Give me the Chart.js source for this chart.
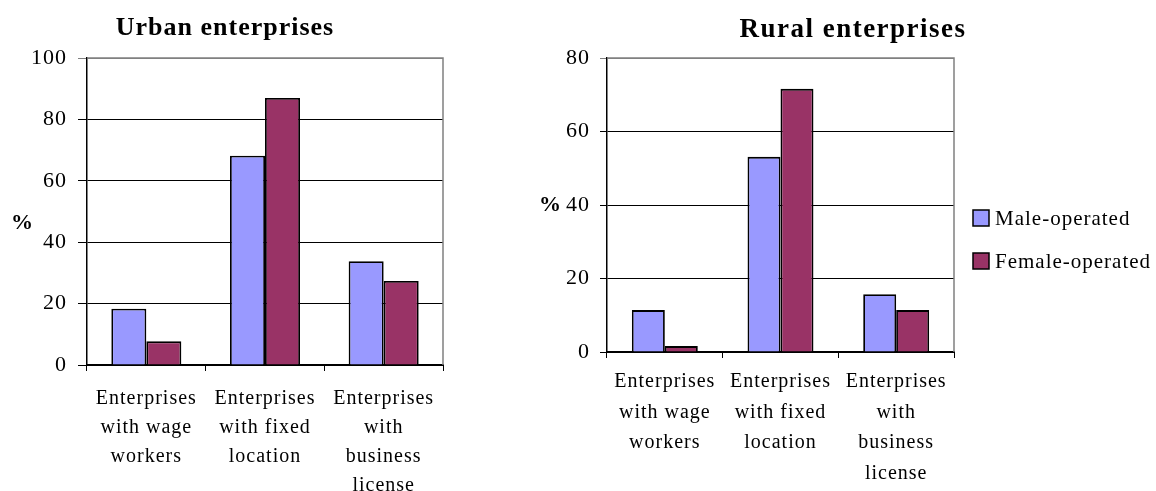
<!DOCTYPE html>
<html>
<head>
<meta charset="utf-8">
<script src="https://cdn.jsdelivr.net/npm/chart.js@4.4.1/dist/chart.umd.min.js"></script>
<style>
  html, body { margin: 0; padding: 0; background: #fff; overflow: hidden; }
  body { width: 1156px; height: 491px; position: relative; }
  .box { position: absolute; top: 0; height: 491px; }
  #urbanBox { left: 0; width: 450px; }
  #ruralBox { left: 520px; width: 636px; }
</style>
</head>
<body>
<div class="box" id="urbanBox"><canvas id="urbanChart"></canvas></div>
<div class="box" id="ruralBox"><canvas id="ruralChart"></canvas></div>
<script>
// categories shared by both panels
const categories = [
    ['Enterprises', 'with wage', 'workers'],
    ['Enterprises', 'with fixed', 'location'],
    ['Enterprises', 'with', 'business', 'license']
];
const seriesNames = ['Male-operated', 'Female-operated'];

// percent of enterprises
const urbanMale = [18.3, 68.2, 33.8];
const urbanFemale = [7.7, 87.0, 27.4];
const ruralMale = [11.4, 53.1, 15.7];
const ruralFemale = [1.6, 71.6, 11.4];

// y axis ranges
const urbanMax = 100;
const ruralMax = 80;
const tickStep = 20;

const serif = "'Liberation Serif', 'Times New Roman', serif";
const maleColor = '#9999ff';
const femaleColor = '#993366';

// spaced-out text, grey plot frame, panel title, "%" label and legend
const excelLook = {
    id: 'excelLook',
    beforeDraw(chart) {
        chart.ctx.letterSpacing = '1px';
    },
    beforeDatasetsDraw(chart) {
        const { ctx, chartArea: a } = chart;
        ctx.save();
        ctx.strokeStyle = '#808080';
        ctx.lineWidth = 1.5;
        ctx.beginPath();
        ctx.moveTo(a.left, a.top);
        ctx.lineTo(a.right, a.top);
        ctx.lineTo(a.right, a.bottom);
        ctx.stroke();
        ctx.restore();
    },
    afterDraw(chart, args, opts) {
        const ctx = chart.ctx;
        ctx.save();
        ctx.fillStyle = '#000';
        ctx.textBaseline = 'middle';

        // panel title
        ctx.letterSpacing = opts.titleSpacing + 'px';
        ctx.font = 'bold ' + opts.titleSize + 'px ' + serif;
        ctx.textAlign = 'center';
        ctx.fillText(opts.title, opts.titleX, opts.titleY);

        // horizontal unit label next to the value axis
        ctx.letterSpacing = '0px';
        ctx.font = 'bold 22px ' + serif;
        ctx.fillText('%', opts.unitX, chart.scales.y.getPixelForValue(opts.unitValue));

        // legend
        if (opts.legend) {
            ctx.letterSpacing = '1px';
            ctx.font = '21px ' + serif;
            ctx.textAlign = 'left';
            chart.data.datasets.forEach((ds, i) => {
                const x = chart.chartArea.right + opts.legendX;
                const y = opts.legendY + i * opts.legendGap;
                ctx.fillStyle = ds.backgroundColor;
                ctx.fillRect(x, y - 8, 16, 16);
                ctx.strokeStyle = '#000';
                ctx.lineWidth = 1.5;
                ctx.strokeRect(x, y - 8, 16, 16);
                ctx.fillStyle = '#000';
                ctx.fillText(ds.label, x + 22, y + 1);
            });
        }
        ctx.restore();
    }
};

function makeChart(id, cfg) {
    const ctx = document.getElementById(id).getContext('2d');
    return new Chart(ctx, {
        type: 'bar',
        data: {
            labels: categories,
            datasets: [{
                label: seriesNames[0],
                data: cfg.male,
                backgroundColor: maleColor,
                borderColor: '#000',
                borderWidth: 1.8,
                borderSkipped: 'bottom'
            }, {
                label: seriesNames[1],
                data: cfg.female,
                backgroundColor: femaleColor,
                borderColor: '#000',
                borderWidth: 1.8,
                borderSkipped: 'bottom'
            }]
        },
        options: {
            responsive: true,
            maintainAspectRatio: false,
            animation: false,
            datasets: {
                bar: {
                    categoryPercentage: cfg.groupWidth,
                    barPercentage: 1.0
                }
            },
            layout: {
                padding: { left: 0, right: cfg.padRight, top: cfg.padTop, bottom: 0 }
            },
            plugins: {
                title: { display: false },
                legend: { display: false },
                tooltip: { enabled: false },
                excelLook: {
                    title: cfg.title,
                    titleX: cfg.titleX,
                    titleY: cfg.titleY,
                    titleSize: cfg.titleSize,
                    titleSpacing: cfg.titleSpacing,
                    unitX: cfg.unitX,
                    unitValue: cfg.unitValue,
                    legend: cfg.legend,
                    legendX: 19,
                    legendY: 218,
                    legendGap: 43
                }
            },
            scales: {
                x: {
                    grid: {
                        display: true,
                        offset: true,
                        drawOnChartArea: false,
                        drawTicks: true,
                        tickLength: 6,
                        color: '#000',
                        lineWidth: 1
                    },
                    border: { color: '#000', width: 2 },
                    ticks: {
                        color: '#000',
                        font: { family: serif, size: 20, lineHeight: cfg.labelLine },
                        padding: cfg.labelPad,
                        maxRotation: 0,
                        autoSkip: false
                    },
                    afterFit(scale) { scale.height = cfg.xHeight; }
                },
                y: {
                    min: 0,
                    max: cfg.max,
                    grid: {
                        color: c => (c.tick && c.tick.value === cfg.max) ? '#808080' : '#000',
                        lineWidth: 1,
                        tickLength: cfg.yTick,
                        drawTicks: true
                    },
                    border: { color: '#000', width: 1.5 },
                    ticks: {
                        stepSize: tickStep,
                        color: '#000',
                        font: { family: serif, size: 22 },
                        padding: cfg.yPad
                    },
                    afterFit(scale) { scale.width = cfg.yWidth; }
                }
            }
        },
        plugins: [excelLook]
    });
}

makeChart('urbanChart', {
    title: 'Urban enterprises',
    titleX: 225,
    titleY: 28,
    titleSize: 26,
    titleSpacing: 1,
    male: urbanMale,
    female: urbanFemale,
    max: urbanMax,
    groupWidth: 0.59,
    padRight: 7,
    padTop: 58,
    legend: false,
    unitX: 22,
    unitValue: 46,
    labelPad: 13,
    labelLine: 1.45,
    xHeight: 126,
    yTick: 9,
    yPad: 11,
    yWidth: 87
});

makeChart('ruralChart', {
    title: 'Rural enterprises',
    titleX: 333,
    titleY: 30,
    titleSize: 27,
    titleSpacing: 1.5,
    male: ruralMale,
    female: ruralFemale,
    max: ruralMax,
    groupWidth: 0.57,
    padRight: 202,
    padTop: 58,
    legend: true,
    unitX: 30,
    unitValue: 40,
    labelPad: 9,
    labelLine: 1.52,
    xHeight: 139,
    yTick: 7,
    yPad: 10,
    yWidth: 87
});
</script>
</body>
</html>
